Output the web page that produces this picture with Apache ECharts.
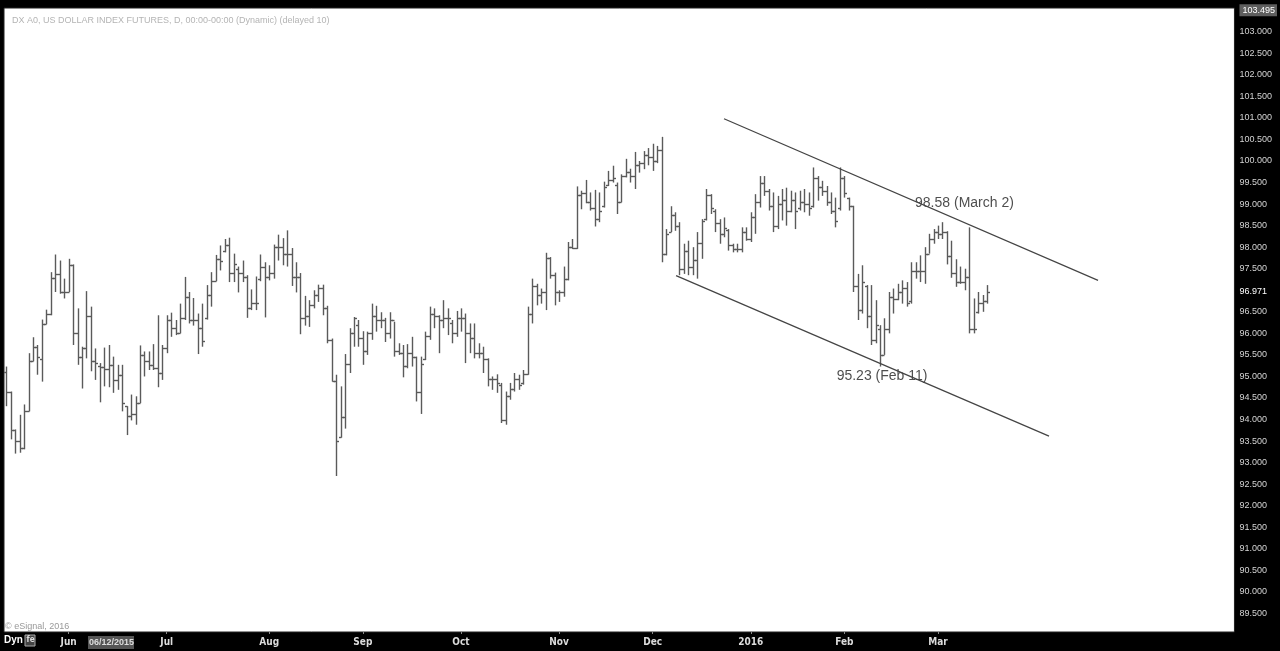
<!DOCTYPE html>
<html><head><meta charset="utf-8">
<script src="https://cdn.jsdelivr.net/npm/echarts@6/dist/echarts.min.js"></script>
<style>html,body{margin:0;padding:0;background:#000;}#c{width:1280px;height:651px;}</style>
</head><body><div id="c"></div><script>
// ---------------- data ----------------
const START_DATE = '2015-05-12';
const CLOSED_DAYS = ['2015-12-25'];
const SLOT_COUNT = 276; // trading-day slots shown on the axis (data + empty future space)

const opens = [
95.10,94.64,93.75,93.50,93.35,94.20,95.37,95.69,95.40,96.21,96.44,97.28,97.37,96.96,96.96,97.58,96.00,95.46,95.65,96.41,95.35,95.25,95.23,95.17,95.27,94.92,95.04,94.31,94.08,94.12,94.38,95.49,95.35,95.27,95.19,95.08,95.65,96.32,96.13,96.00,96.35,96.85,96.31,96.31,96.12,96.35,96.88,97.21,
97.72,97.90,98.04,97.40,97.50,97.40,97.30,96.60,96.70,97.25,97.55,97.30,97.40,98.00,98.00,97.85,97.85,97.30,97.30,96.35,96.40,96.65,96.90,97.05,96.60,95.85,94.90,93.60,94.05,95.30,96.00,96.20,95.90,95.60,96.00,96.40,96.30,96.30,96.00,96.30,95.60,95.55,95.25,95.55,95.45,94.65,95.40,
95.95,96.45,96.40,96.30,96.35,96.25,96.00,96.35,96.35,96.00,95.90,95.55,95.55,95.40,94.95,94.95,94.80,94.00,94.55,94.70,94.95,94.85,95.05,96.45,97.10,96.90,96.95,97.75,97.35,96.95,96.95,97.25,98.00,97.98,99.20,99.25,99.05,98.90,98.65,98.95,99.45,99.55,99.45,99.05,99.65,99.75,99.65,99.90,99.95,100.15,100.10,100.00,100.25,
97.85,98.35,98.75,98.50,97.50,97.90,97.55,97.70,98.10,98.65,99.20,98.85,98.55,98.30,98.40,98.05,97.95,97.95,98.35,98.20,98.70,99.05,99.50,99.30,98.95,98.50,99.00,99.10,98.85,99.10,98.90,99.05,99.00,98.95,99.60,99.40,99.30,99.05,98.85,98.90,99.60,99.15,98.95,97.10,96.55,97.10,96.40,95.85,96.10,95.50,96.10,96.85,96.80,96.95,97.05,96.75,97.45,97.45,97.45,97.85,98.20,98.35,98.30,98.35,97.80,97.40,97.20,97.20,97.30,96.10,96.50,96.70,96.75
];
const highs = [
95.23,94.65,93.77,94.11,94.35,95.54,95.91,95.73,96.32,96.55,97.42,97.83,97.69,97.27,97.73,97.60,96.58,95.69,96.98,96.62,95.65,95.31,95.67,95.73,95.46,95.27,95.27,94.31,94.58,94.54,95.72,95.58,95.58,95.75,96.42,95.73,96.42,96.48,96.31,96.69,97.31,96.96,96.82,96.46,96.69,97.12,97.42,97.82,
98.04,98.19,98.22,97.85,97.55,97.69,97.35,97.02,97.32,97.83,97.65,97.58,98.06,98.29,98.21,98.39,97.98,97.65,97.40,96.87,96.77,97.00,97.13,97.13,96.64,95.88,95.04,94.77,95.52,96.12,96.38,96.31,96.05,96.04,96.69,96.64,96.49,96.36,96.49,96.27,95.77,95.73,95.75,95.92,95.46,95.46,96.04,
96.62,96.58,96.42,96.77,96.58,96.31,96.52,96.58,96.46,96.23,96.23,95.77,95.69,95.42,95.00,95.05,94.85,94.65,94.85,95.08,95.04,95.15,96.62,97.27,97.15,97.04,97.87,97.77,97.41,97.00,97.55,98.12,98.19,99.41,99.31,99.56,99.27,99.33,99.27,99.52,99.77,99.89,99.50,99.69,100.05,99.82,100.21,100.00,100.23,100.30,100.40,100.35,100.56,
98.42,98.95,98.81,98.58,98.08,98.15,98.00,98.35,98.65,99.35,99.23,98.88,98.65,98.69,98.42,98.08,98.08,98.46,98.46,98.81,99.23,99.65,99.65,99.35,99.27,99.19,99.35,99.38,99.31,99.27,99.31,99.35,99.27,99.85,99.65,99.54,99.42,99.27,99.15,99.85,99.65,99.15,98.96,97.38,97.58,97.12,97.12,96.77,96.19,96.35,96.96,97.04,97.15,97.23,97.19,97.65,97.65,97.81,98.00,98.31,98.42,98.50,98.58,98.37,98.15,97.72,97.55,97.50,98.46,96.81,96.96,96.89,97.12
];
const lows = [
94.31,93.54,93.21,93.23,93.31,94.19,95.35,95.04,94.88,96.21,96.42,96.96,96.92,96.81,96.96,95.73,95.27,94.72,95.42,95.12,94.92,94.40,94.77,94.75,94.62,94.69,94.19,93.64,93.98,93.88,94.38,95.00,95.15,95.15,94.75,94.92,95.54,95.92,95.96,96.00,96.31,96.23,96.18,95.52,95.69,96.32,96.62,97.21,
97.46,97.88,97.19,97.19,96.95,97.19,96.36,96.54,96.54,97.21,96.37,97.23,97.27,97.69,97.58,97.55,97.10,96.95,95.98,96.18,96.15,96.58,96.73,96.42,95.77,94.88,92.69,93.58,93.79,95.08,95.69,95.69,95.27,95.50,95.85,96.04,96.12,95.80,95.88,95.46,95.50,94.98,95.19,95.23,94.42,94.13,95.38,
95.85,96.12,95.54,96.12,95.96,95.77,95.92,96.04,95.31,95.54,95.42,95.42,95.08,94.77,94.69,94.62,93.92,93.88,94.46,94.65,94.69,94.81,95.04,96.23,96.65,96.69,96.54,97.27,96.65,96.73,96.85,97.23,97.96,97.96,98.88,99.02,98.85,98.48,98.58,98.92,99.42,99.50,98.77,99.04,99.62,99.50,99.35,99.73,99.81,99.90,99.77,99.95,97.65,
97.81,98.35,98.38,97.35,97.38,97.35,97.35,97.27,97.73,98.62,98.77,98.35,98.08,98.23,97.92,97.88,97.88,97.88,98.15,98.12,98.31,98.92,99.19,98.85,98.35,98.42,98.62,98.50,98.81,98.42,98.85,98.81,98.73,98.92,99.08,99.19,98.96,98.77,98.46,98.85,99.15,98.85,96.96,96.31,96.46,96.12,95.73,95.77,95.23,95.50,96.00,96.46,96.77,96.69,96.62,96.69,97.27,97.19,97.15,97.85,98.08,98.19,98.19,97.60,97.29,97.08,97.15,97.00,96.00,96.00,96.46,96.50,96.69
];
const closes = [
94.64,93.75,93.50,93.33,94.20,95.37,95.69,95.46,96.21,96.44,97.28,97.37,96.96,96.96,97.58,96.00,95.46,95.65,96.41,95.35,95.32,95.23,95.17,95.27,94.92,95.04,94.38,94.08,94.12,94.38,95.49,95.35,95.27,95.19,95.08,95.65,96.32,96.13,96.00,96.35,96.85,96.31,96.31,96.12,95.83,96.88,97.21,97.72,
97.69,98.04,97.40,97.60,97.40,97.30,96.60,96.70,96.70,97.55,97.30,97.40,98.00,98.00,97.85,97.85,97.30,97.30,96.35,96.40,96.65,96.90,97.05,96.60,95.85,94.90,93.50,94.05,95.30,96.00,96.35,95.90,95.60,96.00,96.40,96.30,96.30,96.00,96.30,95.60,95.55,95.25,95.55,95.45,94.65,95.30,95.95,
96.45,96.40,96.30,96.35,96.35,96.00,96.35,96.35,96.00,95.90,95.55,95.55,95.40,94.95,94.95,94.85,94.00,94.55,94.70,94.95,94.80,95.05,96.45,97.10,96.90,96.95,97.75,97.35,96.95,96.95,97.25,98.00,97.98,99.20,99.25,99.05,98.90,98.65,98.85,99.40,99.55,99.60,99.05,99.65,99.75,99.65,99.90,99.95,100.15,100.10,100.00,100.25,97.85,
98.30,98.75,98.50,97.50,97.90,97.55,97.70,98.10,98.60,99.20,98.90,98.55,98.30,98.45,98.05,97.95,97.95,98.35,98.20,98.70,99.05,99.50,99.30,98.95,98.50,99.00,99.10,98.85,99.10,98.85,99.05,99.00,98.90,99.60,99.40,99.30,99.05,98.85,98.60,99.60,99.25,98.95,97.10,96.55,97.20,96.40,95.85,96.20,95.50,96.10,96.85,96.80,96.95,97.05,96.70,97.45,97.45,97.45,97.85,98.20,98.35,98.30,98.35,97.80,97.40,97.20,97.20,97.30,96.10,96.10,96.70,96.75,96.97
];

const yTicks = [89.5,90.0,90.5,91.0,91.5,92.0,92.5,93.0,93.5,94.0,94.5,95.0,95.5,96.0,96.5,97.5,98.0,98.5,99.0,99.5,100.0,100.5,101.0,101.5,102.0,102.5,103.0];
const lastPrice = 96.971;
const topPrice = 103.495;
const monthLabels = ['','Feb','Mar','Apr','May','Jun','Jul','Aug','Sep','Oct','Nov','Dec']; // January shows the year

// channel lines: [slot index, value]
const upperChannel = [[161.0, 100.98], [244.9, 97.23]];
const lowerChannel = [[150.25, 97.34], [233.9, 93.615]];

const noteDates = ['2016-03-02', '2016-02-11'];
const noteValues = [98.58, 95.23];
const noteTexts = ['98.58 (March 2)', '95.23 (Feb 11)'];

const titleText = 'DX A0, US DOLLAR INDEX FUTURES, D, 00:00-00:00 (Dynamic) (delayed 10)';

// ---------------- build ----------------
const dates = [];
{
  let t = Date.parse(START_DATE + 'T00:00:00Z');
  while (dates.length < SLOT_COUNT) {
    const d = new Date(t);
    const s = d.toISOString().slice(0, 10);
    const dow = d.getUTCDay();
    if (dow !== 0 && dow !== 6 && CLOSED_DAYS.indexOf(s) < 0) dates.push(s);
    t += 86400000;
  }
}
const monthStart = new Set();
for (let i = 1; i < opens.length; i++) {
  if (dates[i].slice(5, 7) !== dates[i - 1].slice(5, 7)) monthStart.add(i);
}
const ohlc = opens.map((o, i) => [i, o, highs[i], lows[i], closes[i]]);

const noteOffsets = [[22, -19], [2, 10]];

function renderBar(params, api) {
  const i = api.value(0);
  const pO = api.coord([i, api.value(1)]);
  const yH = api.coord([i, api.value(2)])[1];
  const yL = api.coord([i, api.value(3)])[1];
  const yC = api.coord([i, api.value(4)])[1];
  const x = Math.round(pO[0]) + 0.5;
  const yo = Math.round(pO[1]) + 0.5, yc = Math.round(yC) + 0.5;
  const st = { stroke: '#5a5a5a', lineWidth: 1.4 };
  return { type: 'group', children: [
    { type: 'line', shape: { x1: x, y1: yH, x2: x, y2: yL }, style: st },
    { type: 'line', shape: { x1: x - 2.5, y1: yo, x2: x, y2: yo }, style: st },
    { type: 'line', shape: { x1: x, y1: yc, x2: x + 2.5, y2: yc }, style: st }
  ]};
}

const chart = echarts.init(document.getElementById('c'), null, { renderer: 'canvas' });
const FONT = 'Arial, "Liberation Sans", sans-serif';
const NARROW = '"Liberation Sans Narrow", "DejaVu Sans Condensed", Arial, sans-serif';

chart.setOption({
  animation: false,
  backgroundColor: '#000',
  title: {
    text: titleText, left: 7, top: 11,
    textStyle: { color: '#b4b4b4', fontSize: 9, fontWeight: 'normal', fontFamily: FONT }
  },
  grid: { left: 4, right: 42, top: 8, bottom: 19, show: true, backgroundColor: '#fff', borderColor: '#222', borderWidth: 1 },
  xAxis: [{
    type: 'category', data: dates, boundaryGap: true,
    axisLine: { show: false },
    axisTick: { show: true, interval: (idx) => monthStart.has(idx), alignWithLabel: true, length: 2, lineStyle: { color: '#888' } },
    axisLabel: {
      interval: (idx) => monthStart.has(idx),
      margin: 5, color: '#dcdcdc', fontSize: 10, fontWeight: 'bold', fontFamily: NARROW,
      formatter: (v) => { const m = +v.slice(5, 7) - 1; return m === 0 ? v.slice(0, 4) : monthLabels[m]; }
    },
    splitLine: { show: false }
  }, {
    type: 'value', min: -0.5, max: SLOT_COUNT - 0.5, show: false
  }],
  yAxis: {
    type: 'value', position: 'right', min: 89.07, max: 103.55,
    splitLine: { show: false },
    axisLine: { show: false },
    axisTick: { show: false },
    axisLabel: {
      customValues: yTicks.concat([lastPrice, topPrice]),
      margin: 5, color: '#d4d4d4', fontSize: 9, fontFamily: FONT,
      formatter: (v) => {
        if (Math.abs(v - topPrice) < 1e-6) return '{top|' + v.toFixed(3) + '}';
        if (Math.abs(v - lastPrice) < 1e-6) return '{cur|' + v.toFixed(3) + '}';
        return v.toFixed(3);
      },
      rich: {
        top: { backgroundColor: '#5e5e5e', color: '#fff', fontSize: 9, fontFamily: FONT, padding: [2, 2, 1, 3] },
        cur: { color: '#ffffff', fontSize: 9, fontFamily: FONT }
      }
    }
  },
  series: [
    { type: 'custom', name: 'DX A0', xAxisIndex: 0, yAxisIndex: 0, data: ohlc, encode: { x: 0, y: [1, 2, 3, 4] }, renderItem: renderBar, clip: true },
    { type: 'line', xAxisIndex: 1, data: upperChannel, symbol: 'none', lineStyle: { color: '#444', width: 1.2 }, silent: true },
    { type: 'line', xAxisIndex: 1, data: lowerChannel, symbol: 'none', lineStyle: { color: '#444', width: 1.2 }, silent: true },
    {
      type: 'scatter', xAxisIndex: 0, symbolSize: 0, silent: true,
      data: noteDates.map((d, k) => ({
        value: [d, noteValues[k]],
        label: { show: true, formatter: noteTexts[k], position: noteOffsets[k], align: 'center', verticalAlign: 'middle',
                 color: '#222', fontSize: 14, fontFamily: FONT }
      }))
    }
  ],
  graphic: [
    { type: 'text', left: 5, top: 622, style: { text: '© eSignal, 2016', fill: '#999', font: '9px ' + FONT } },
    { type: 'text', left: 4, top: 635, style: { text: 'Dyn', fill: '#fff', font: 'bold 10px ' + FONT } },
    { type: 'rect', shape: { x: 25, y: 635, width: 10, height: 11 }, style: { fill: '#444', stroke: '#aaa', lineWidth: 1 } },
    { type: 'text', left: 26.5, top: 636, style: { text: 'fe', fill: '#ddd', font: 'bold 8px ' + NARROW } },
    { type: 'rect', shape: { x: 88, y: 636, width: 46, height: 13 }, style: { fill: '#555' } },
    { type: 'text', left: 89, top: 638, style: { text: '06/12/2015', fill: '#ddd', font: 'bold 9px ' + FONT } }
  ]
});
</script></body></html>
